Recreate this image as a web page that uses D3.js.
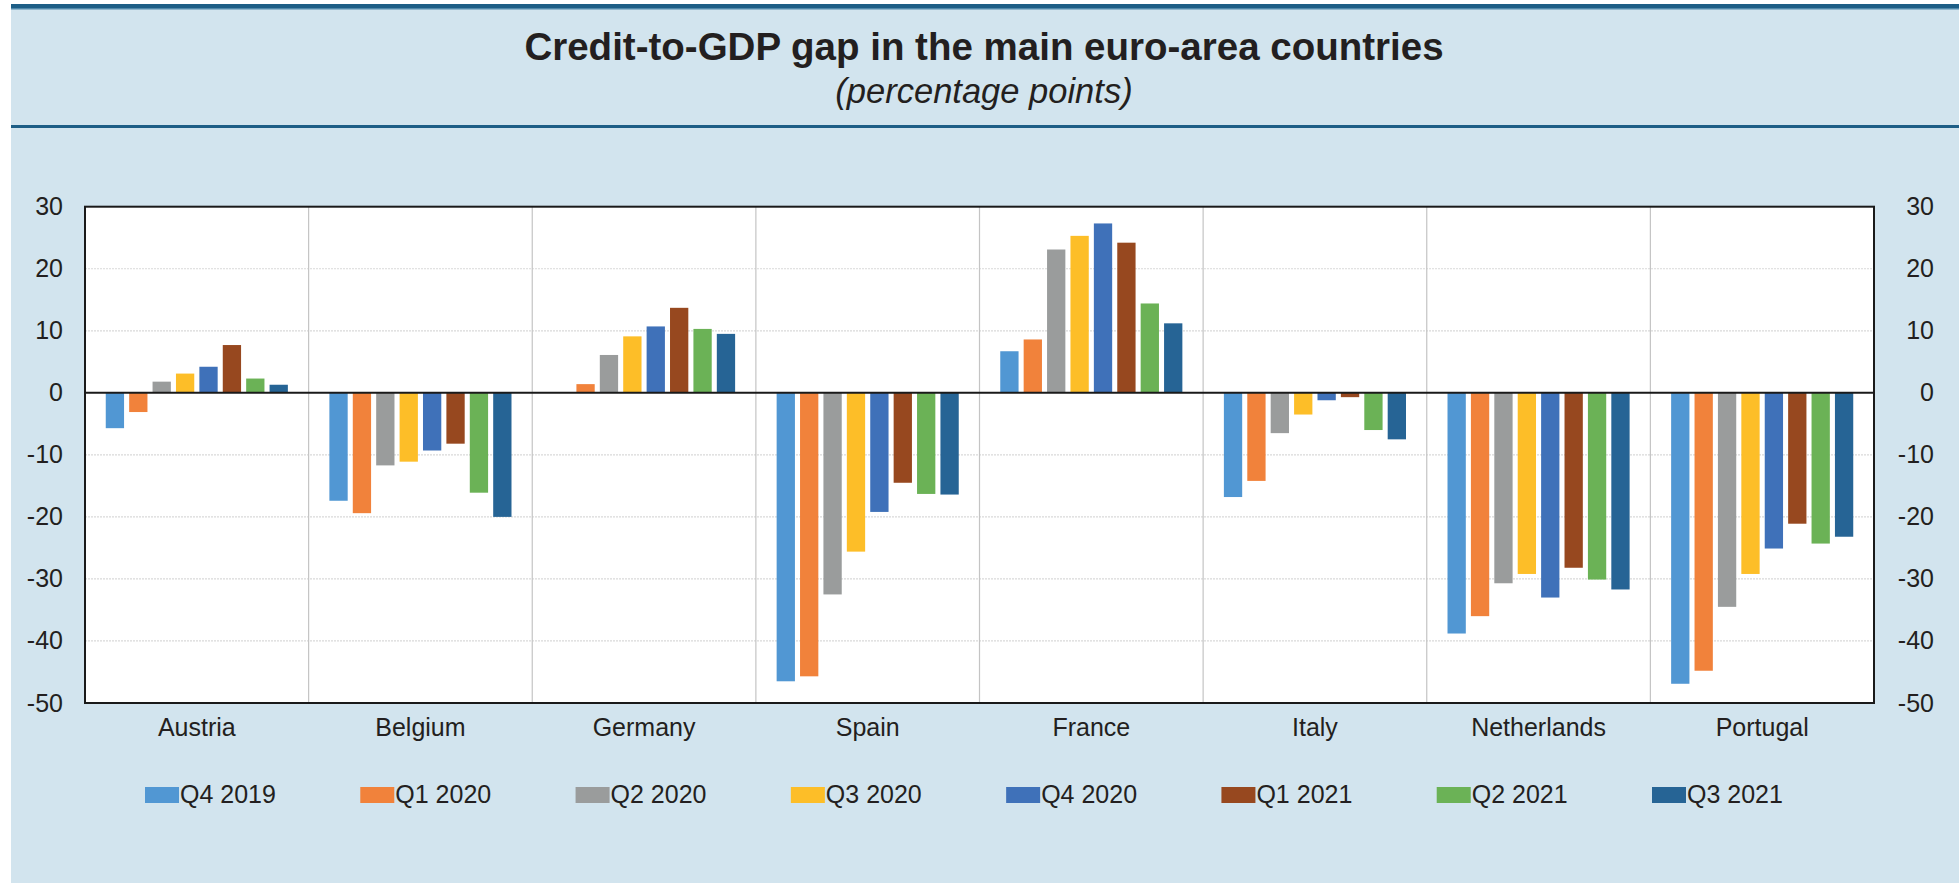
<!DOCTYPE html>
<html>
<head>
<meta charset="utf-8">
<script src="https://cdn.jsdelivr.net/npm/d3@7"></script>
<style>
  html, body { margin: 0; padding: 0; background: #ffffff; }
  svg { display: block; font-family: "Liberation Sans", Arial, Helvetica, sans-serif; }
</style>
</head>
<body>
<svg id="chart" width="1959" height="883"></svg>
<script>
// Credit-to-GDP gap, percentage points
const countries = ["Austria", "Belgium", "Germany", "Spain", "France", "Italy", "Netherlands", "Portugal"];
const quarters = ["Q4 2019", "Q1 2020", "Q2 2020", "Q3 2020", "Q4 2020", "Q1 2021", "Q2 2021", "Q3 2021"];

// one array per country, in quarter order
const austria     = [-5.7,  -3.1,   1.8,   3.1,   4.2,   7.7,   2.3,   1.3];
const belgium     = [-17.4, -19.4, -11.7, -11.1,  -9.3,  -8.2, -16.1, -20.0];
const germany     = [0.0,    1.4,   6.1,   9.1,  10.7,  13.7,  10.3,   9.5];
const spain       = [-46.5, -45.7, -32.5, -25.6, -19.2, -14.5, -16.3, -16.4];
const france      = [6.7,    8.6,  23.1,  25.3,  27.3,  24.2,  14.4,  11.2];
const italy       = [-16.8, -14.2,  -6.5,  -3.5,  -1.2,  -0.7,  -6.0,  -7.5];
const netherlands = [-38.8, -36.0, -30.7, -29.2, -33.0, -28.2, -30.1, -31.7];
const portugal    = [-46.9, -44.8, -34.5, -29.2, -25.1, -21.1, -24.3, -23.2];

const yTicks = [30, 20, 10, 0, -10, -20, -30, -40, -50];
const colors = ["#5197d3", "#f1823b", "#9a9c9c", "#fdbe28", "#3f71b9", "#97481f", "#6bb256", "#266495"];

const seriesByCountry = [austria, belgium, germany, spain, france, italy, netherlands, portugal];
const rows = countries.map((c, i) => ({
  country: c,
  values: quarters.map((q, j) => ({ quarter: q, value: seriesByCountry[i][j] }))
}));

const svg = d3.select("#chart");
const W = 1959, H = 883;
const plot = { left: 85, right: 1874, top: 206.7, bottom: 703 };
const labelFont = 25;
const ink = "#231f20";

// panel background and rules
svg.append("rect").attr("x", 11).attr("y", 4).attr("width", W - 11).attr("height", H - 4).attr("fill", "#d2e4ee");
svg.append("rect").attr("x", 11).attr("y", 4).attr("width", W - 11).attr("height", 5).attr("fill", "#1d5e86");
svg.append("rect").attr("x", 11).attr("y", 8).attr("width", W - 11).attr("height", 1.5).attr("fill", "#4f88aa");
svg.append("rect").attr("x", 11).attr("y", 125).attr("width", W - 11).attr("height", 3).attr("fill", "#1d5e86");

// titles
svg.append("text")
  .attr("x", 984).attr("y", 60)
  .attr("text-anchor", "middle")
  .attr("font-size", 38.5).attr("font-weight", "bold").attr("fill", ink)
  .text("Credit-to-GDP gap in the main euro-area countries");
svg.append("text")
  .attr("x", 984).attr("y", 103)
  .attr("text-anchor", "middle")
  .attr("font-size", 34.5).attr("font-style", "italic").attr("fill", ink)
  .text("(percentage points)");

// scales
const x0 = d3.scaleBand().domain(countries).range([plot.left, plot.right]).paddingInner(0).paddingOuter(0);
const x1 = d3.scaleBand().domain(quarters).range([0, x0.bandwidth()]).paddingInner(0.218).paddingOuter(0.887);
const y = d3.scaleLinear().domain([-50, 30]).range([plot.bottom, plot.top]);
const color = d3.scaleOrdinal().domain(quarters).range(colors);

// plot area
svg.append("rect")
  .attr("x", plot.left).attr("y", plot.top)
  .attr("width", plot.right - plot.left).attr("height", plot.bottom - plot.top)
  .attr("fill", "#ffffff");

// horizontal gridlines
svg.append("g").selectAll("line")
  .data(yTicks.filter(t => t !== 0 && t !== 30 && t !== -50))
  .join("line")
  .attr("x1", plot.left).attr("x2", plot.right)
  .attr("y1", d => y(d)).attr("y2", d => y(d))
  .attr("stroke", "#d9d9d9").attr("stroke-width", 1.2).attr("stroke-dasharray", "2,1");

// category separators
svg.append("g").selectAll("line")
  .data(countries.slice(1))
  .join("line")
  .attr("x1", d => x0(d)).attr("x2", d => x0(d))
  .attr("y1", plot.top).attr("y2", plot.bottom)
  .attr("stroke", "#c4c4c4").attr("stroke-width", 1.2);

// bars
svg.append("g").selectAll("g")
  .data(rows)
  .join("g")
  .attr("transform", d => `translate(${x0(d.country)},0)`)
  .selectAll("rect")
  .data(d => d.values)
  .join("rect")
  .attr("x", d => x1(d.quarter))
  .attr("width", x1.bandwidth())
  .attr("y", d => y(Math.max(0, d.value)))
  .attr("height", d => Math.abs(y(d.value) - y(0)))
  .attr("fill", d => color(d.quarter));

// zero line
svg.append("line")
  .attr("x1", plot.left).attr("x2", plot.right)
  .attr("y1", y(0)).attr("y2", y(0))
  .attr("stroke", "#1a1a1a").attr("stroke-width", 2);

// frame
svg.append("rect")
  .attr("x", plot.left).attr("y", plot.top)
  .attr("width", plot.right - plot.left).attr("height", plot.bottom - plot.top)
  .attr("fill", "none").attr("stroke", "#1a1a1a").attr("stroke-width", 2);

// axes
const fmt = d => String(d);
const leftAxis = svg.append("g")
  .attr("transform", `translate(${plot.left},0)`)
  .call(d3.axisLeft(y).tickValues(yTicks).tickSize(0).tickPadding(22).tickFormat(fmt));
const rightAxis = svg.append("g")
  .attr("transform", `translate(${plot.right},0)`)
  .call(d3.axisRight(y).tickValues(yTicks).tickSize(0).tickPadding(60).tickFormat(fmt));
rightAxis.selectAll("text").attr("text-anchor", "end");
const bottomAxis = svg.append("g")
  .attr("transform", `translate(0,${plot.bottom})`)
  .call(d3.axisBottom(x0).tickSize(0).tickPadding(15));

[leftAxis, rightAxis, bottomAxis].forEach(g => {
  g.select(".domain").remove();
  g.selectAll("text")
    .attr("font-family", "'Liberation Sans', Arial, sans-serif")
    .attr("font-size", labelFont)
    .attr("fill", ink);
});

// legend
const legendX = d3.scalePoint().domain(quarters).range([145, 1652]);
const legend = svg.append("g").selectAll("g")
  .data(quarters)
  .join("g")
  .attr("transform", d => `translate(${legendX(d)},787)`);
legend.append("rect")
  .attr("width", 34).attr("height", 16)
  .attr("fill", d => color(d));
legend.append("text")
  .attr("x", 35).attr("y", 16)
  .attr("font-size", labelFont).attr("fill", ink)
  .text(d => d);
</script>
</body>
</html>
